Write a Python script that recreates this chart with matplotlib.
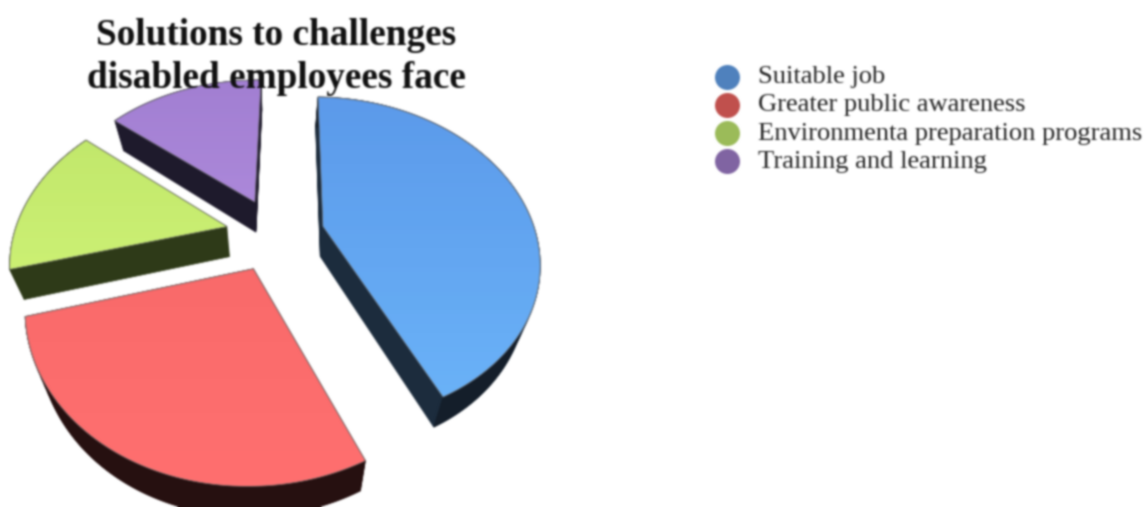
import numpy as np
import matplotlib
matplotlib.use('Agg')
import matplotlib.pyplot as plt
from matplotlib.patches import Polygon

title = 'Solutions to challenges\ndisabled employees face'
labels = ['Suitable job', 'Greater public awareness',
          'Environmenta preparation programs', 'Training and learning']
values = [42.7, 27.8, 15, 14.5]
legend_colors = ['#4f81bd', '#c0504d', '#9bbb59', '#8064a2']
top_colors = [('#5c9aea', '#6ab2f8'), ('#f96a6a', '#ff7070'),
              ('#c2e86c', '#ccf074'), ('#a27fd2', '#ac88da')]
side_colors = ['#1c2c3d', '#2a1212', '#2e3a18', '#1e1a2c']
wall_colors = ['#141e2a', '#261010', '#2e3a18', '#1e1a2c']

cx, cy = 275, 234
radius = 213
squash = 158
persp = 0.2
explode = 0.232
depth = 30
shrink = 0.055
start_angle = 1


def project(x, y):
    s = 1 / (1 + persp * y)
    return cx + radius * x * s, cy - squash * y * s


def slice_outline(start, end):
    mid = np.radians((start + end) / 2)
    ox, oy = explode * np.sin(mid), explode * np.cos(mid)
    ang = np.radians(np.linspace(start, end, 120))
    xs = np.r_[ox, ox + np.sin(ang)]
    ys = np.r_[oy, oy + np.cos(ang)]
    return project(xs, ys)


def lower(px, py, t):
    return cx + (px - cx) * (1 - shrink * t), py + depth * t


# the reference is a soft upscaled image, so blur the whole axes a little
def soften(img, dpi):
    pad = 4
    img = np.pad(img, ((pad, pad), (pad, pad), (0, 0)), mode='edge')
    kernel = np.array([0.06, 0.24, 0.4, 0.24, 0.06])
    for axis in (0, 1):
        img = np.apply_along_axis(lambda v: np.convolve(v, kernel, mode='same'), axis, img)
    return img, -pad, -pad


fig = plt.figure(figsize=(11.47, 5.07), dpi=100)
ax = fig.add_axes([0, 0, 1, 1])
ax.set_xticks([])
ax.set_yticks([])
for sp in ax.spines.values():
    sp.set_visible(False)
ax.set_agg_filter(soften)

edges = start_angle + np.cumsum([0] + values) / sum(values) * 360

# back slices first so the front ones sit on top
for i in [3, 2, 0, 1]:
    px, py = slice_outline(edges[i], edges[i + 1])
    for t in np.linspace(1, 0, 32):
        qx, qy = lower(px, py, t)
        ax.add_patch(Polygon(np.c_[qx, qy], fc=side_colors[i],
                             ec=side_colors[i], lw=0.5, zorder=2))
    bx, by = lower(px[1:], py[1:], 1)
    wall = np.r_[np.c_[px[1:], py[1:]], np.c_[bx, by][::-1]]
    ax.add_patch(Polygon(wall, fc=wall_colors[i], ec=wall_colors[i], lw=0.5, zorder=2.2))
    face = Polygon(np.c_[px, py], fc='none', ec='#6b6b6b', lw=0.5, zorder=3)
    ax.add_patch(face)
    grad = matplotlib.colors.LinearSegmentedColormap.from_list('g', top_colors[i])
    im = ax.imshow(np.linspace(0, 1, 64).reshape(-1, 1), cmap=grad, aspect='auto', zorder=2.5,
                   extent=[px.min(), px.max(), py.max(), py.min()])
    im.set_clip_path(face)

ax.set_xlim(0, 1147)
ax.set_ylim(507, 0)

ax.text(276, 57, title, family='Liberation Serif', weight='bold', fontsize=26.8,
        ha='center', va='center', linespacing=1.29, color='#111111', zorder=5)

for i, lab in enumerate(labels):
    ax.scatter(727, 77 + 28 * i, s=324, color=legend_colors[i], zorder=4, linewidths=0)
    ax.text(758, 83 + 28.3 * i, lab, family='Liberation Serif', fontsize=19.05,
            va='baseline', color='#222222', zorder=5)

fig.savefig('out.png', dpi=100)
